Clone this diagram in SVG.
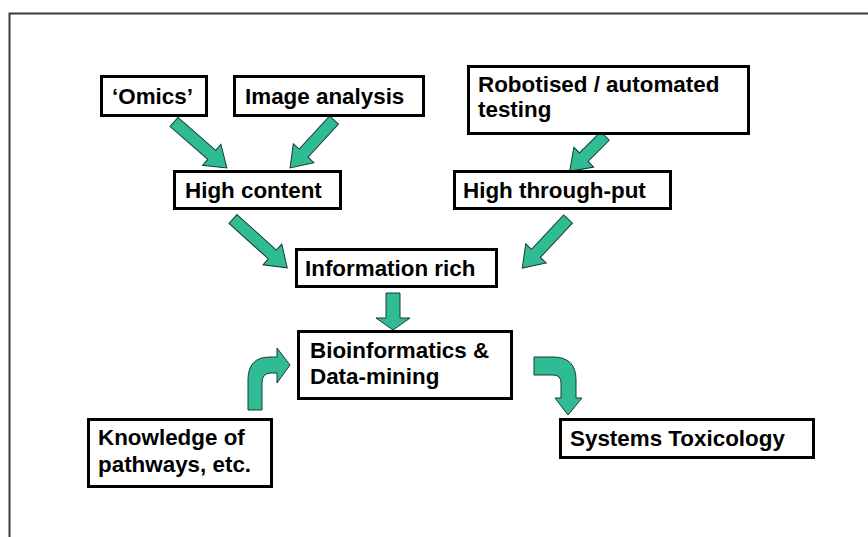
<svg xmlns="http://www.w3.org/2000/svg" width="868" height="537" viewBox="0 0 868 537">
<defs>
<style>
.box{fill:#fff;stroke:#000;stroke-width:3}
.lbl{font-family:"Liberation Sans",Arial,sans-serif;font-weight:bold;font-size:22.4px;fill:#000}
.arr{fill:#2fbc94;stroke:#1c3a30;stroke-width:1;stroke-linejoin:miter}
</style>
</defs>
<rect width="868" height="537" fill="#fff"/>
<path d="M9.5 540 L9.5 13.5 L870 13.5" fill="none" stroke="#3a3a3a" stroke-width="2"/>
<g id="connectors">
<polygon class="arr" transform="translate(174,122) rotate(41)" points="0,-6 50,-6 50,-14 70,0 50,14 50,6 0,6"/>
<polygon class="arr" transform="translate(334,120) rotate(132.5)" points="0,-6 45,-6 45,-14 65,0 45,14 45,6 0,6"/>
<polygon class="arr" transform="translate(605,136) rotate(135)" points="0,-6 30,-6 30,-14 50,0 30,14 30,6 0,6"/>
<polygon class="arr" transform="translate(233,219) rotate(42)" points="0,-6 53,-6 53,-14 73,0 53,14 53,6 0,6"/>
<polygon class="arr" transform="translate(568,219) rotate(133)" points="0,-6 47,-6 47,-14 67,0 47,14 47,6 0,6"/>
<polygon class="arr" points="386,293 400,293 400,318 410,318 393,330 376,318 386,318"/>
<path class="arr" d="M248 410 L248 380 Q248 357 270 357 L277 357 L277 348 L290 365 L277 383 L277 373 L271 373 Q262 373 262 383 L262 410 Z"/>
<path class="arr" d="M534 357 L553 357 Q576 357 576 380 L576 398 L582 398 L568 415 L555 398 L561 398 L561 383 Q561 375 553 375 L534 375 Z"/>
</g>
<g id="omics"><rect class="box" x="101.5" y="76.5" width="105" height="39"/><text class="lbl" x="112" y="104">‘Omics’</text></g>
<g id="image-analysis"><rect class="box" x="234.5" y="76.5" width="189" height="39"/><text class="lbl" x="245" y="104">Image analysis</text></g>
<g id="robotised"><rect class="box" x="468.5" y="66.5" width="280" height="67"/><text class="lbl"><tspan x="478" y="92">Robotised / automated</tspan><tspan x="478" y="117">testing</tspan></text></g>
<g id="high-content"><rect class="box" x="174.5" y="171.5" width="166" height="37"/><text class="lbl" x="185" y="198">High content</text></g>
<g id="high-throughput"><rect class="box" x="454.5" y="171.5" width="216" height="37"/><text class="lbl" x="463" y="198">High through-put</text></g>
<g id="information-rich"><rect class="box" x="296.5" y="249.5" width="200" height="37"/><text class="lbl" x="305" y="276">Information rich</text></g>
<g id="bioinformatics"><rect class="box" x="298.5" y="331.5" width="213" height="67"/><text class="lbl"><tspan x="310" y="358">Bioinformatics &amp;</tspan><tspan x="310" y="384">Data-mining</tspan></text></g>
<g id="knowledge"><rect class="box" x="88.5" y="419.5" width="183" height="67"/><text class="lbl"><tspan x="98" y="445">Knowledge of</tspan><tspan x="98" y="472">pathways, etc.</tspan></text></g>
<g id="systems-toxicology"><rect class="box" x="560.5" y="419.5" width="253" height="38"/><text class="lbl" x="570" y="446">Systems Toxicology</text></g>
</svg>
